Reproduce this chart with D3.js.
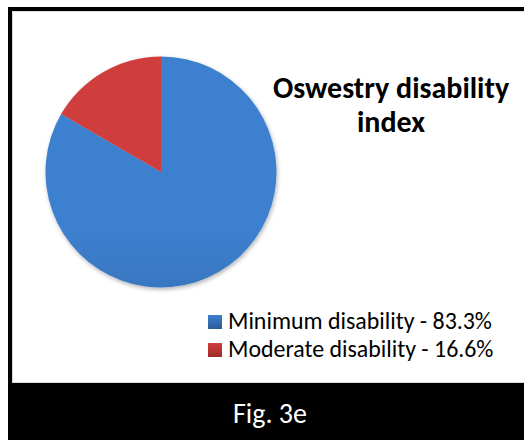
<!DOCTYPE html>
<html>
<head>
<meta charset="utf-8">
<script src="https://cdn.jsdelivr.net/npm/d3@7"></script>
<style>
html,body{margin:0;padding:0;background:#fff;}
svg{display:block;}
</style>
</head>
<body>
<svg id="chart" width="524" height="440"></svg>
<script>
const categories = ["Minimum disability", "Moderate disability"];
const values = [83.3, 16.6];
const legendLabels = ["Minimum disability - 83.3%", "Moderate disability - 16.6%"];
const titleLines = ["Oswestry disability", "index"];
const caption = "Fig. 3e";

const svg = d3.select("#chart");
const W = 524, H = 440;
const FONT = "Carlito, Calibri, 'Open Sans', 'Liberation Sans', sans-serif";

const defs = svg.append("defs");
const gradStops = [
  {id: "gBlue", top: "#3d80cf", bot: "#2d5b98"},
  {id: "gRed", top: "#cf3e3c", bot: "#9e2a28"}
];
gradStops.forEach(g => {
  const lg = defs.append("linearGradient").attr("id", g.id)
    .attr("gradientUnits", "userSpaceOnUse")
    .attr("x1", 0).attr("y1", 57).attr("x2", 0).attr("y2", 288);
  lg.append("stop").attr("offset", 0).attr("stop-color", g.top);
  lg.append("stop").attr("offset", 1).attr("stop-color", g.bot);
  const lg2 = defs.append("linearGradient").attr("id", g.id + "L")
    .attr("x1", 0).attr("y1", 0).attr("x2", 0).attr("y2", 1);
  lg2.append("stop").attr("offset", 0).attr("stop-color", g.top);
  lg2.append("stop").attr("offset", 1).attr("stop-color", g.bot);
});
const shadow = defs.append("filter").attr("id", "shadow")
  .attr("x", "-20%").attr("y", "-20%").attr("width", "140%").attr("height", "140%");
shadow.append("feDropShadow").attr("dx", 1).attr("dy", 2).attr("stdDeviation", 2)
  .attr("flood-color", "#000").attr("flood-opacity", 0.3);

// frame
svg.append("rect").attr("x", 0).attr("y", 0).attr("width", W).attr("height", H).attr("fill", "#fff");
svg.append("rect").attr("x", 8).attr("y", 7).attr("width", W - 8).attr("height", 4).attr("fill", "#000");
svg.append("rect").attr("x", 8).attr("y", 7).attr("width", 4).attr("height", H - 7).attr("fill", "#000");
svg.append("rect").attr("x", 12.5).attr("y", 11.5).attr("width", W).attr("height", 371)
  .attr("fill", "#fff").attr("stroke", "#d9d9d9").attr("stroke-width", 1);
svg.append("rect").attr("x", 8).attr("y", 383).attr("width", W - 8).attr("height", H - 383).attr("fill", "#000");

// pie
const cx = 161, cy = 172, r = 115.5;
const color = d3.scaleOrdinal().domain(categories).range(["url(#gBlue)", "url(#gRed)"]);
const legendColor = d3.scaleOrdinal().domain(categories).range(["url(#gBlueL)", "url(#gRedL)"]);
const pie = d3.pie().sort(null).value(d => d.v);
const data = categories.map((c, i) => ({c, v: values[i]}));
const arc = d3.arc().innerRadius(0).outerRadius(r);
const g = svg.append("g").attr("transform", `translate(${cx},${cy})`).attr("filter", "url(#shadow)");
g.selectAll("path").data(pie(data)).join("path")
  .attr("d", arc)
  .attr("fill", d => color(d.data.c));

// title
const title = svg.append("text").attr("text-anchor", "middle")
  .attr("font-family", FONT).attr("font-weight", "bold").attr("font-size", 26).attr("fill", "#000");
titleLines.forEach((t, i) => {
  title.append("tspan").attr("x", 391).attr("y", 98 + i * 34).text(t);
});
// fit first line width to ~248px
(function(){
  const n = title.select("tspan").node();
  const w = n.getComputedTextLength();
  const fs = 26 * 248 / w;
  title.attr("font-size", Math.min(fs, 30));
})();

// legend
const leg = svg.append("g");
categories.forEach((c, i) => {
  const y = 315 + i * 28;
  leg.append("rect").attr("x", 208).attr("y", y).attr("width", 14).attr("height", 14)
    .attr("fill", legendColor(c));
  leg.append("text").attr("class", "lt").attr("x", 228).attr("y", y + 14)
    .attr("font-family", FONT).attr("font-size", 20).attr("fill", "#000")
    .text(legendLabels[i]);
});
(function(){
  const n = leg.select("text.lt").node();
  const w = n.getComputedTextLength();
  const fs = 20 * 264 / w;
  leg.selectAll("text.lt").attr("font-size", Math.min(fs, 24));
})();

// caption
const cap = svg.append("text").attr("x", 270).attr("y", 423).attr("text-anchor", "middle")
  .attr("font-family", FONT).attr("font-size", 25).attr("fill", "#fff").text(caption);
(function(){
  const w = cap.node().getComputedTextLength();
  cap.attr("font-size", Math.min(25 * 75 / w, 28));
})();
</script>
</body>
</html>
